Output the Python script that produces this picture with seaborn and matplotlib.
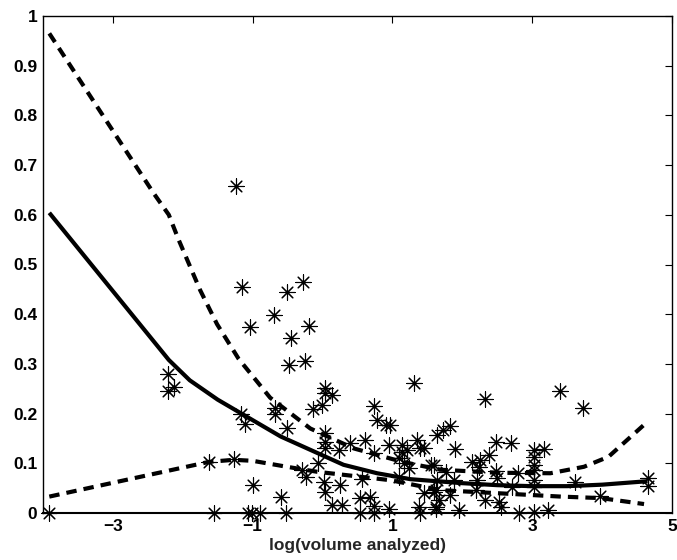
import numpy as np
import pandas as pd
import matplotlib
matplotlib.use("Agg")
import matplotlib.pyplot as plt
import seaborn as sns

# scatter data (log volume analyzed, value)
pts_x = [-3.91, -2.21, -2.21, -2.12, -1.62, -1.56, -1.27, -1.235, -1.153, -1.163,
         -1.11, -1.06, -1.01, -0.89, -1.0, -1.04, -0.69, -0.676, -0.676, -0.59,
         -0.53, -0.51, -0.51, -0.45, -0.48, -0.285, -0.25, -0.20, -0.29, -0.23,
         -0.14, -0.007, -0.07, 0.04, 0.04, 0.136, 0.04, 0.04, 0.04, 0.23,
         0.388, 0.613, 0.73, 0.78, 0.914, 0.96, 0.73, 0.947, 1.14, 1.14,
         1.21, 1.305, 1.354, 1.40, 1.45, 1.64, 1.09, 1.23, 1.545, 0.016,
         0.04, 0.255, 0.566, 1.09, 1.45, 1.59, 0.136, 0.28, 0.54, 0.685,
         0.54, 0.73, 0.73, 0.947, 1.38, 1.40, 1.62, 1.66, 1.16, 2.33,
         3.40, 3.73, 1.73, 1.83, 1.895, 2.476, 2.69, 2.38, 2.14, 2.25,
         2.24, 2.476, 2.79, 3.025, 3.17, 3.025, 3.025, 3.025, 3.025, 3.025,
         1.59, 1.76, 1.64, 1.88, 1.62, 1.83, 2.21, 2.19, 2.50, 2.71,
         2.33, 2.52, 2.55, 1.95, 1.62, 2.81, 3.025, 3.22, 3.61, 3.97,
         4.66, 4.66]
pts_y = [0.0, 0.279, 0.245, 0.253, 0.103, 0.0, 0.109, 0.658, 0.455, 0.200,
         0.180, 0.0, 0.0, 0.0, 0.056, 0.375, 0.398, 0.211, 0.200, 0.032,
         0.0, 0.445, 0.172, 0.353, 0.298, 0.464, 0.306, 0.376, 0.087, 0.073,
         0.209, 0.217, 0.101, 0.251, 0.241, 0.237, 0.160, 0.143, 0.130, 0.127,
         0.141, 0.147, 0.215, 0.187, 0.178, 0.178, 0.121, 0.137, 0.137, 0.123,
         0.127, 0.262, 0.147, 0.130, 0.130, 0.157, 0.110, 0.090, 0.097, 0.063,
         0.043, 0.056, 0.068, 0.073, 0.040, 0.043, 0.016, 0.016, 0.030, 0.033,
         0.0, 0.014, 0.0, 0.009, 0.013, 0.0, 0.009, 0.026, 0.100, 0.229,
         0.246, 0.211, 0.168, 0.175, 0.128, 0.143, 0.140, 0.117, 0.103, 0.107,
         0.093, 0.085, 0.080, 0.127, 0.128, 0.113, 0.097, 0.087, 0.066, 0.053,
         0.097, 0.083, 0.066, 0.066, 0.046, 0.036, 0.066, 0.046, 0.070, 0.053,
         0.026, 0.023, 0.013, 0.006, 0.013, 0.0, 0.003, 0.006, 0.063, 0.034,
         0.071, 0.054]

# fitted curve
fit_x = [-3.91, -2.2, -1.9, -1.5, -1.16, -0.6, 0.0, 0.3, 0.78, 1.26, 2.0, 2.5, 3.0, 3.5, 4.0, 4.65]
fit_y = [0.604, 0.308, 0.267, 0.228, 0.200, 0.154, 0.116, 0.097, 0.080, 0.068, 0.060, 0.056, 0.054, 0.054, 0.057, 0.064]

# upper confidence band
up_x = [-3.91, -2.42, -2.2, -2.06, -1.75, -1.51, -1.2, -0.94, -0.75, -0.175, 0.445, 1.14, 1.69, 2.5, 3.26, 3.74, 4.09, 4.62]
up_y = [0.965, 0.644, 0.600, 0.550, 0.448, 0.380, 0.310, 0.265, 0.232, 0.170, 0.130, 0.103, 0.087, 0.081, 0.080, 0.093, 0.113, 0.180]

# lower confidence band
lo_x = [-3.91, -1.62, -1.27, -1.0, -0.51, -0.08, 0.97, 1.69, 3.41, 3.98, 4.6]
lo_y = [0.033, 0.103, 0.107, 0.105, 0.093, 0.083, 0.066, 0.046, 0.033, 0.030, 0.018]

x_ticks = [-3, -1, 1, 3, 5]
y_ticks = [0, 0.1, 0.2, 0.3, 0.4, 0.5, 0.6, 0.7, 0.8, 0.9, 1]
y_tick_labels = ["0", "0.1", "0.2", "0.3", "0.4", "0.5", "0.6", "0.7", "0.8", "0.9", "1"]

sns.set_style("white")
plt.rcParams['font.family'] = ['Liberation Sans', 'DejaVu Sans']

fig = plt.figure(figsize=(6.77, 5.6), dpi=100)
ax = fig.add_axes([43/677, 1 - 513/560, (672 - 43)/677, (513 - 16)/560])

df_pts = pd.DataFrame({"x": pts_x, "y": pts_y})
sns.scatterplot(data=df_pts, x="x", y="y", ax=ax, marker=(8, 2, 0), s=120,
                color="black", linewidth=0.8, clip_on=False, zorder=3, legend=False)

dash = (0, (2.5, 1.7))
sns.lineplot(x=fit_x, y=fit_y, ax=ax, color="black", linewidth=3.0,
             estimator=None, sort=False, zorder=4)
sns.lineplot(x=up_x, y=up_y, ax=ax, color="black", linewidth=3.0,
             estimator=None, sort=False, zorder=4, linestyle=dash)
sns.lineplot(x=lo_x, y=lo_y, ax=ax, color="black", linewidth=3.0,
             estimator=None, sort=False, zorder=4, linestyle=dash)
for ln in ax.lines:
    ln.set_dash_capstyle("butt")
    ln.set_solid_capstyle("butt")

ax.set_xlim(-4, 5)
ax.set_ylim(0, 1)
ax.set_xticks(x_ticks)
ax.set_xticklabels([f"\u2212{abs(t)}" if t < 0 else str(t) for t in x_ticks])
ax.set_yticks(y_ticks)
ax.set_yticklabels(y_tick_labels)
ax.tick_params(direction="in", length=5, width=0.8, top=True, right=True,
               labelsize=12.5, pad=4, colors="black")
for lab in ax.get_xticklabels() + ax.get_yticklabels():
    lab.set_fontweight("bold")
for sp in ax.spines.values():
    sp.set_visible(True)
    sp.set_color("black")
    sp.set_linewidth(1.0)
ax.spines["bottom"].set_linewidth(1.5)

ax.set_xlabel("log(volume analyzed)", fontsize=12.5, fontweight="bold", labelpad=3)
ax.set_ylabel("")

fig.savefig("out.png", dpi=100)
